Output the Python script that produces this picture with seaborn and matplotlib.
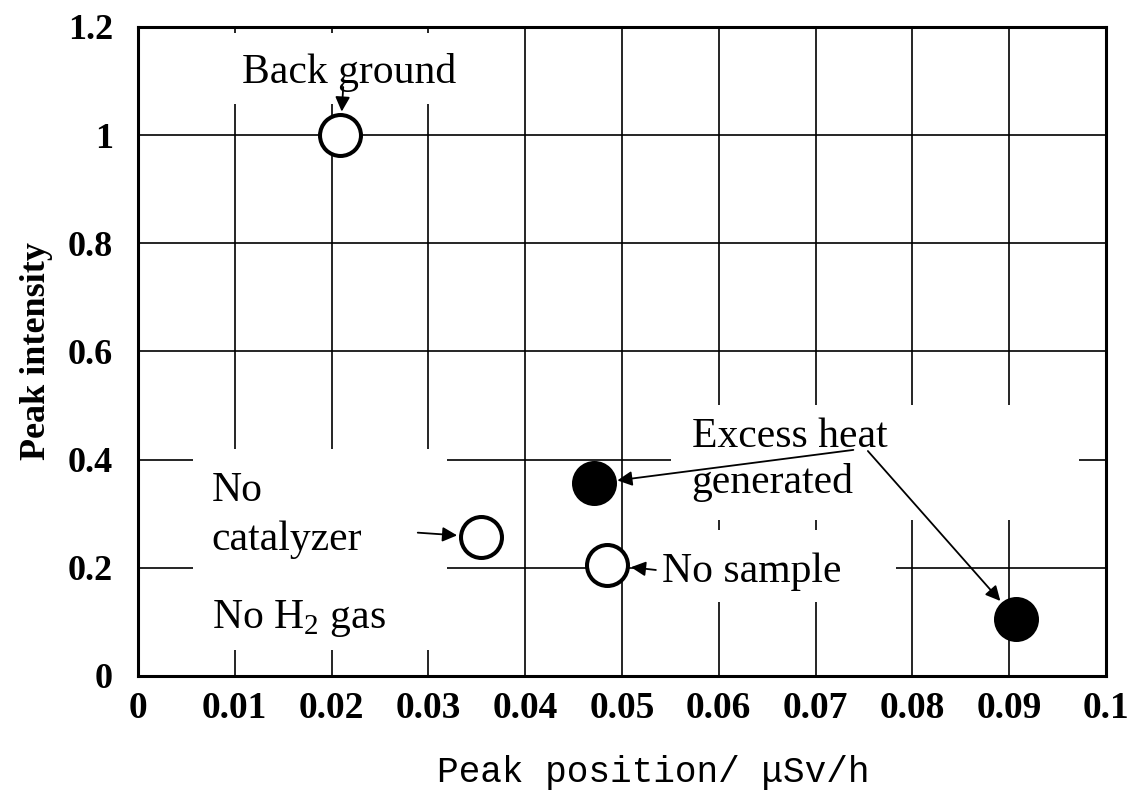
import matplotlib
matplotlib.use('Agg')
import matplotlib.pyplot as plt
from matplotlib.patches import Rectangle
from matplotlib.ticker import MultipleLocator
import seaborn as sns

# points
open_x = [0.0209, 0.0354, 0.0485]      # back ground, no catalyzer, no sample
open_y = [1.0, 0.257, 0.206]
filled_x = [0.0471, 0.0907]            # excess heat generated
filled_y = [0.356, 0.106]

x_ticks = [0, 0.01, 0.02, 0.03, 0.04, 0.05, 0.06, 0.07, 0.08, 0.09, 0.1]
x_ticklabels = ['0', '0.01', '0.02', '0.03', '0.04', '0.05', '0.06', '0.07', '0.08', '0.09', '0.1']
y_ticks = [0, 0.2, 0.4, 0.6, 0.8, 1.0, 1.2]
y_ticklabels = ['0', '0.2', '0.4', '0.6', '0.8', '1', '1.2']

sns.set_theme(style='white')
plt.rcParams['font.family'] = ['Liberation Serif', 'DejaVu Serif']
plt.rcParams['mathtext.fontset'] = 'custom'
plt.rcParams['mathtext.rm'] = 'Liberation Serif'
plt.rcParams['text.color'] = 'black'
plt.rcParams['axes.labelcolor'] = 'black'

fig = plt.figure(figsize=(11.34, 7.98), dpi=100)
ax = fig.add_axes([0.1217, 0.1529, 0.8536, 0.8133])

ax.set_xlim(0, 0.1)
ax.set_ylim(0, 1.2)
ax.grid(True, which='major', color='black', linewidth=1.2)
ax.set_axisbelow(True)

# white text boxes that hide the grid behind the labels (x, y, w, h in data units)
masks = [
    (0.0085, 1.057, 0.0268, 0.132),
    (0.0057, 0.048, 0.0262, 0.372),
    (0.0551, 0.288, 0.0421, 0.213),
    (0.0513, 0.137, 0.0270, 0.133),
]
for mx, my, mw, mh in masks:
    ax.add_patch(Rectangle((mx, my), mw, mh, facecolor='white', edgecolor='none', zorder=1))

sns.scatterplot(x=open_x, y=open_y, ax=ax, s=870, color='white', edgecolor='black',
                linewidth=2.9, zorder=5, legend=False)
sns.scatterplot(x=filled_x, y=filled_y, ax=ax, s=870, color='black', edgecolor='black',
                linewidth=2.9, zorder=5, legend=False)

arrow = dict(arrowstyle='-|>', color='black', lw=1.3, shrinkA=0, shrinkB=17, mutation_scale=22)
ax.annotate('', xy=(open_x[0], open_y[0]), xytext=(open_x[0] + 0.0003, 1.089), arrowprops=arrow, zorder=4)
ax.annotate('', xy=(open_x[1], open_y[1]), xytext=(0.0289, 0.265), arrowprops=arrow, zorder=4)
ax.annotate('', xy=(open_x[2], open_y[2]), xytext=(0.0535, 0.196), arrowprops=arrow, zorder=4)
ax.annotate('', xy=(filled_x[0], filled_y[0]), xytext=(0.0739, 0.418), arrowprops=arrow, zorder=4)
ax.annotate('', xy=(filled_x[1], filled_y[1]), xytext=(0.0754, 0.416), arrowprops=arrow, zorder=4)

lab = dict(fontsize=30, color='black', ha='left', va='baseline', zorder=3)
ax.text(0.0107, 1.096, 'Back ground', **lab)
ax.text(0.0076, 0.3235, 'No', **lab)
ax.text(0.0076, 0.233, 'catalyzer', **lab)
ax.text(0.0076, 0.0887, 'No H$_2$ gas', **lab)
ax.text(0.0572, 0.4233, 'Excess heat', **lab)
ax.text(0.0572, 0.338, 'generated', **lab)
ax.text(0.0541, 0.174, 'No sample', **lab)

ax.set_xticks(x_ticks, labels=x_ticklabels, fontsize=27, fontweight='bold')
ax.set_yticks(y_ticks, labels=y_ticklabels, fontsize=26, fontweight='bold')
ax.xaxis.set_minor_locator(MultipleLocator(0.005))
ax.yaxis.set_minor_locator(MultipleLocator(0.1))
ax.tick_params(axis='both', which='both', direction='in', colors='black')
ax.tick_params(axis='both', which='major', length=0)
ax.tick_params(axis='x', which='major', pad=11)
ax.tick_params(axis='y', which='major', pad=18)
ax.tick_params(axis='both', which='minor', length=6.5, width=1.1)

for sp in ax.spines.values():
    sp.set_visible(True)
    sp.set_color('black')
    sp.set_linewidth(2.2)

ax.set_xlabel('Peak position/ μSv/h', family=['Liberation Mono', 'DejaVu Sans Mono'],
              fontsize=26, color='black')
ax.xaxis.set_label_coords(0.532, -0.122)
ax.set_ylabel('Peak intensity', fontsize=26, fontweight='bold', color='black')
ax.yaxis.set_label_coords(-0.088, 0.5)

fig.savefig('out.png', dpi=100)
